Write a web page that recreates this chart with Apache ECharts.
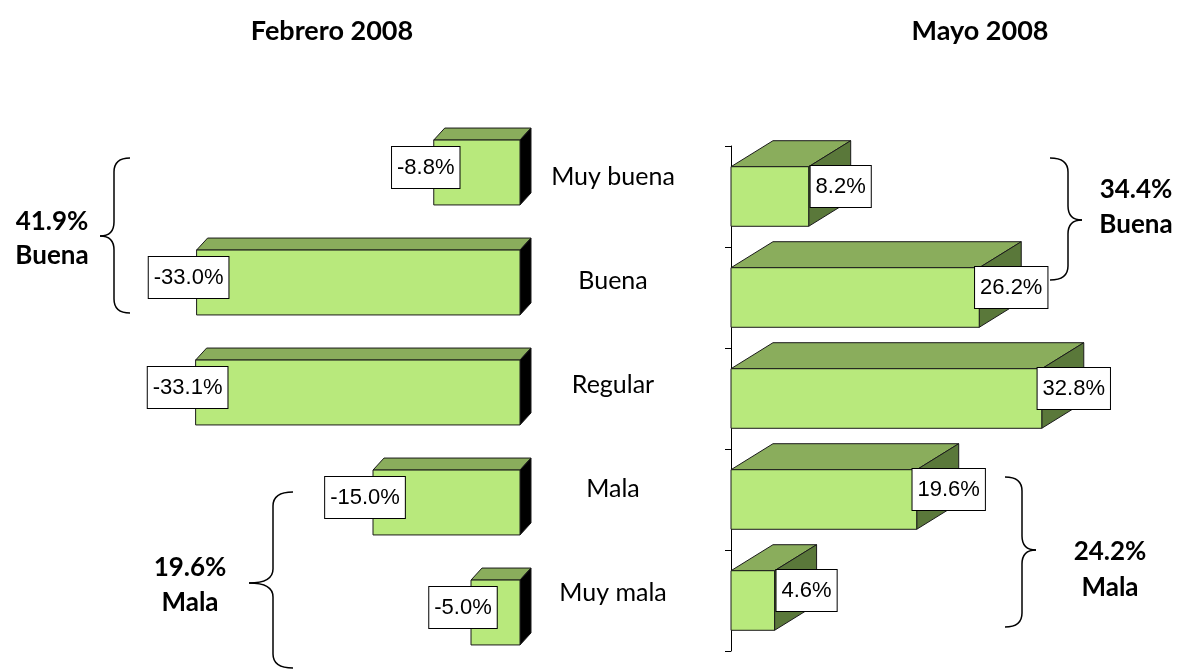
<!DOCTYPE html>
<html>
<head>
<meta charset="utf-8">
<script src="https://cdn.jsdelivr.net/npm/echarts@6/dist/echarts.min.js"></script>
<style>
  html, body { margin: 0; padding: 0; background: #fff; }
  #chart { width: 1181px; height: 671px; }
</style>
</head>
<body>
<div id="chart"></div>
<script>
const categories = ['Muy buena', 'Buena', 'Regular', 'Mala', 'Muy mala']
const febrero = [-8.8, -33.0, -33.1, -15.0, -5.0]
const mayo = [8.2, 26.2, 32.8, 19.6, 4.6]
const titles = ['Febrero 2008', 'Mayo 2008']
const notesFeb = [['41.9%', 'Buena'], ['19.6%', 'Mala']]
const notesMay = [['34.4%', 'Buena'], ['24.2%', 'Mala']]

const FRONT = '#b8e97c'
const TOP = '#8aad5c'
const EDGE = '#1a1a1a'
const LABEL_FONT = '"Liberation Sans", Arial, sans-serif'
const TEXT_FONT = 'Lato, "Open Sans", sans-serif'

// 3D bar drawn as front + top + side faces
function bar3D(depthX, depthY, sideColor, labelDx, labelDy, labelAtLeft) {
  return function (params, api) {
    const idx = api.value(0)
    const val = api.value(1)
    const p0 = api.coord([0, idx])
    const p1 = api.coord([val, idx])
    const band = api.size([0, 1])[1]
    const h = band * 0.59
    const xl = Math.min(p0[0], p1[0])
    const xr = Math.max(p0[0], p1[0])
    const yt = p0[1] - h / 2
    const yb = p0[1] + h / 2
    const line = { stroke: EDGE, lineWidth: 1 }
    return {
      type: 'group',
      children: [
        {
          type: 'polygon',
          shape: { points: [[xl, yt], [xl + depthX, yt - depthY], [xr + depthX, yt - depthY], [xr, yt]] },
          style: Object.assign({ fill: TOP }, line)
        },
        {
          type: 'polygon',
          shape: { points: [[xr, yt], [xr + depthX, yt - depthY], [xr + depthX, yb - depthY], [xr, yb]] },
          style: Object.assign({ fill: sideColor }, line)
        },
        {
          type: 'rect',
          shape: { x: xl, y: yt, width: xr - xl, height: h },
          style: Object.assign({ fill: FRONT }, line)
        },
        {
          type: 'text',
          x: (labelAtLeft ? xl : xr) + labelDx,
          y: p0[1] + labelDy,
          style: {
            text: val.toFixed(1) + '%',
            fontFamily: LABEL_FONT,
            fontSize: 22,
            fill: '#000',
            align: 'center',
            verticalAlign: 'middle',
            backgroundColor: '#fff',
            borderColor: '#000',
            borderWidth: 1,
            padding: [10, 5, 9, 5]
          }
        }
      ]
    }
  }
}

// curly brace built from lines and quadratic curves
function brace(xEnd, xLine, xTip, yTop, yMid, yBot) {
  const r = 14
  const st = { fill: 'none', stroke: '#000', lineWidth: 1.5 }
  const curve = (x1, y1, cx, cy, x2, y2) => ({ type: 'bezierCurve', shape: { x1, y1, cpx1: cx, cpy1: cy, x2, y2 }, style: st })
  const seg = (x1, y1, x2, y2) => ({ type: 'line', shape: { x1, y1, x2, y2 }, style: st })
  return {
    type: 'group',
    children: [
      curve(xEnd, yTop, xLine, yTop, xLine, yTop + r),
      seg(xLine, yTop + r, xLine, yMid - r),
      curve(xLine, yMid - r, xLine, yMid, xTip, yMid),
      curve(xTip, yMid, xLine, yMid, xLine, yMid + r),
      seg(xLine, yMid + r, xLine, yBot - r),
      curve(xLine, yBot - r, xLine, yBot, xEnd, yBot)
    ]
  }
}

function note(lines, cx, y1, y2) {
  const st = { fontFamily: TEXT_FONT, fontWeight: 'bold', fontSize: 26, fill: '#000', align: 'center', verticalAlign: 'middle' }
  return [
    { type: 'text', x: cx, y: y1, style: Object.assign({ text: lines[0] }, st) },
    { type: 'text', x: cx, y: y2, style: Object.assign({ text: lines[1] }, st) }
  ]
}

const chart = echarts.init(document.getElementById('chart'))
chart.setOption({
  animation: false,
  title: [
    { text: titles[0], left: 327, top: 13, textAlign: 'center', textStyle: { fontFamily: TEXT_FONT, fontWeight: 'bold', fontSize: 27, color: '#000' } },
    { text: titles[1], left: 975, top: 13, textAlign: 'center', textStyle: { fontFamily: TEXT_FONT, fontWeight: 'bold', fontSize: 27, color: '#000' } }
  ],
  grid: [
    { left: 177, width: 343, top: 117.5, height: 550 },
    { left: 731, width: 379, top: 146, height: 505 },
    { left: 613, width: 1, top: 125, height: 520 }
  ],
  xAxis: [
    { gridIndex: 0, type: 'value', min: -35, max: 0, show: false },
    { gridIndex: 1, type: 'value', min: 0, max: 40, show: false },
    { gridIndex: 2, type: 'value', show: false }
  ],
  yAxis: [
    { gridIndex: 0, type: 'category', data: categories, inverse: true, show: false },
    {
      gridIndex: 1, type: 'category', data: categories, inverse: true,
      axisLine: { lineStyle: { color: '#000', width: 1 } },
      axisTick: { show: true, length: 6, lineStyle: { color: '#000' } },
      axisLabel: { show: false },
      splitLine: { show: false }
    },
    {
      gridIndex: 2, type: 'category', data: categories, inverse: true,
      axisLine: { show: false }, axisTick: { show: false },
      axisLabel: { align: 'center', margin: 0, fontFamily: TEXT_FONT, fontSize: 25, color: '#000' }
    }
  ],
  series: [
    {
      type: 'custom',
      xAxisIndex: 0,
      yAxisIndex: 0,
      clip: false,
      renderItem: bar3D(11, 12, '#000', -8, -5, true),
      encode: { x: 1, y: 0 },
      data: febrero.map((v, i) => [i, v])
    },
    {
      type: 'custom',
      xAxisIndex: 1,
      yAxisIndex: 1,
      clip: false,
      renderItem: bar3D(42, 26, '#5a783a', 32, -10, false),
      encode: { x: 1, y: 0 },
      data: mayo.map((v, i) => [i, v])
    }
  ],
  graphic: [
    brace(130, 114, 100, 158, 236, 313),
    brace(293, 273, 249, 492, 583, 668),
    brace(1050, 1068, 1082, 158, 220, 280),
    brace(1005, 1022, 1036, 477, 550, 627)
  ]
    .concat(note(notesFeb[0], 52, 222, 256))
    .concat(note(notesFeb[1], 190, 568, 603))
    .concat(note(notesMay[0], 1136, 190, 225))
    .concat(note(notesMay[1], 1110, 552, 588))
})
</script>
</body>
</html>
